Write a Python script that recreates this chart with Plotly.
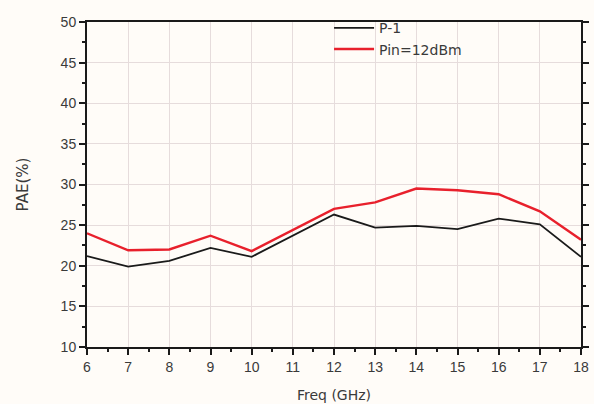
import plotly.graph_objects as go

# Frequency sweep (GHz) and measured power-added efficiency (%)
freq_ghz = [6, 7, 8, 9, 10, 11, 12, 13, 14, 15, 16, 17, 18]
pae_p1 = [21.2, 19.9, 20.6, 22.2, 21.1, 23.7, 26.3, 24.7, 24.9, 24.5, 25.8, 25.1, 21.1]
pae_pin12 = [24.0, 21.9, 22.0, 23.7, 21.8, 24.4, 27.0, 27.8, 29.5, 29.3, 28.8, 26.7, 23.2]

series_names = ["P-1", "Pin=12dBm"]
series_colors = ["#1a1a1a", "#e8202c"]

x_ticks = list(range(6, 19))
y_ticks = list(range(10, 51, 5))

font_family = "Liberation Sans, Arial, sans-serif"
wide_family = "DejaVu Sans, Verdana, sans-serif"
text_color = "#3a3a3a"

fig = go.Figure()
for name, vals, color, width in zip(series_names, [pae_p1, pae_pin12], series_colors, [1.8, 2.4]):
    fig.add_trace(go.Scatter(
        x=freq_ghz, y=vals, mode="lines", name=name,
        line=dict(color=color, width=width),
    ))

axis_common = dict(
    showline=True, linecolor="#1a1a1a", linewidth=2,
    ticks="outside", ticklen=6, tickwidth=1.5, tickcolor="#1a1a1a",
    showgrid=True, gridcolor="#e6dcdc", gridwidth=1,
    zeroline=False, automargin=False,
    tickfont=dict(family=font_family, size=14, color=text_color),
    minor=dict(ticks="outside", ticklen=3, tickwidth=1.5, tickcolor="#1a1a1a", showgrid=False),
)

fig.update_xaxes(
    range=[6, 18], tickvals=x_ticks, mirror=True,
    title=dict(text="Freq (GHz)", font=dict(family=wide_family, size=14, color=text_color), standoff=16),
    **axis_common,
)
fig.update_yaxes(
    range=[10, 50], tickvals=y_ticks, mirror="ticks",
    title=dict(text="PAE(%)", font=dict(family=wide_family, size=15, color=text_color), standoff=28),
    **axis_common,
)
fig.update_xaxes(minor_dtick=0.5)
fig.update_yaxes(minor_dtick=2.5)

fig.update_layout(
    width=594, height=404,
    margin=dict(l=87, r=13, t=16, b=57),
    paper_bgcolor="#fffcf8", plot_bgcolor="#fffcf8",
    showlegend=True,
    legend=dict(
        x=0.49, y=1.03, xanchor="left", yanchor="top",
        bgcolor="rgba(0,0,0,0)", borderwidth=0,
        font=dict(family=wide_family, size=14, color=text_color),
        tracegroupgap=0, itemwidth=40,
    ),
)

fig.write_html("out.html")
